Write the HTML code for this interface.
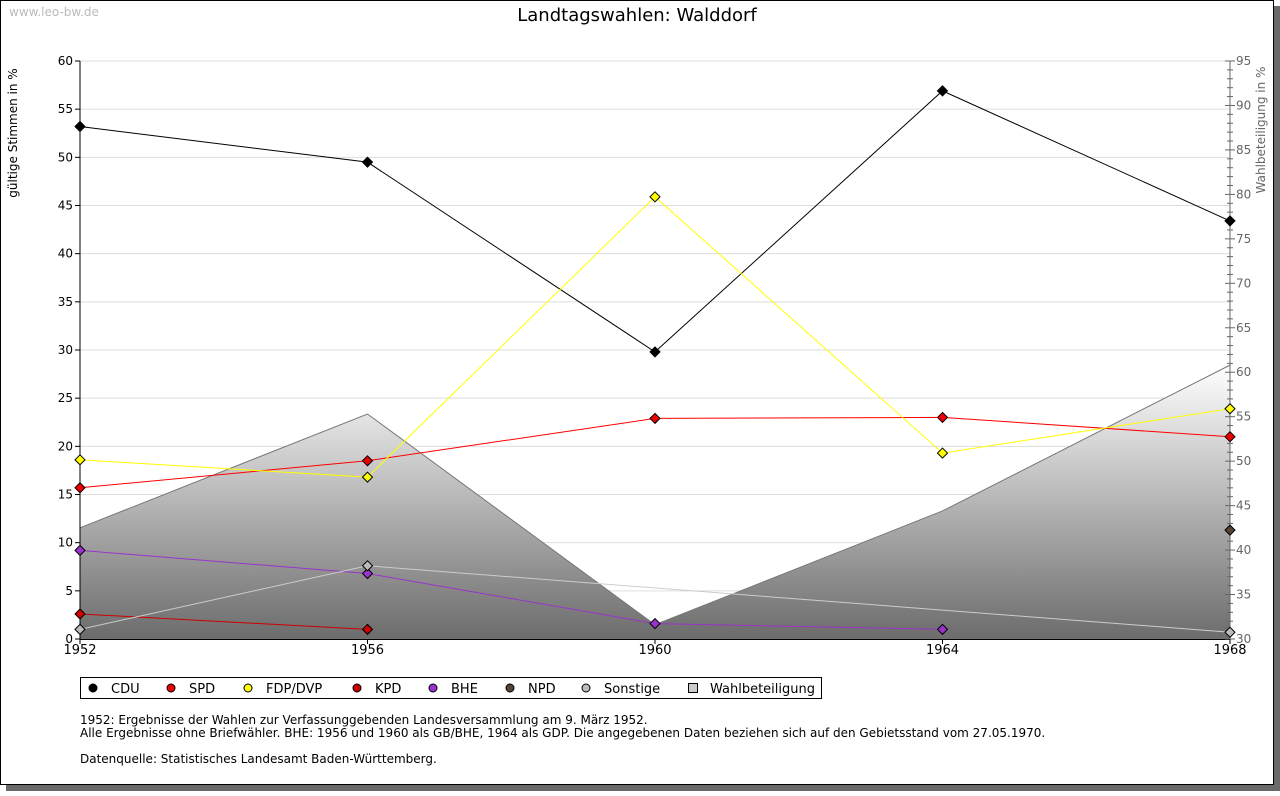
<!DOCTYPE html>
<html><head><meta charset="utf-8"><style>
body{margin:0;background:#fff;font-family:"Liberation Sans","DejaVu Sans",sans-serif;}
#wrap{position:relative;width:1280px;height:791px;}
</style></head><body>
<div id="wrap">
<svg id="svg" width="1280" height="791" xmlns="http://www.w3.org/2000/svg" font-family="DejaVu Sans, Liberation Sans, sans-serif">
<defs><linearGradient id="g" x1="0" y1="0" x2="0" y2="1"><stop offset="0" stop-color="#ffffff"/><stop offset="1" stop-color="#6c6c6c"/></linearGradient></defs>
<rect x="6" y="6" width="1274" height="785" fill="#6a6a6a"/>
<rect x="0.5" y="0.5" width="1273" height="784" fill="#fff" stroke="#000"/>
<text x="9" y="16" font-size="12" fill="#bbb">www.leo-bw.de</text>
<text x="637" y="21" font-size="18" text-anchor="middle">Landtagswahlen: Walddorf</text>
<text transform="translate(17,133) rotate(-90)" font-size="12" text-anchor="middle">gültige Stimmen in %</text>
<text transform="translate(1265,130) rotate(-90)" font-size="12" fill="#666" text-anchor="middle">Wahlbeteiligung in %</text>
<g id="plot"></g>
<g>
<rect x="80.5" y="677.5" width="741" height="21" fill="#fff" stroke="#000"/>
<g id="leg"></g></g>
<g font-size="12">
<text x="80" y="724">1952: Ergebnisse der Wahlen zur Verfassunggebenden Landesversammlung am 9. März 1952.</text>
<text x="80" y="737">Alle Ergebnisse ohne Briefwähler. BHE: 1956 und 1960 als GB/BHE, 1964 als GDP. Die angegebenen Daten beziehen sich auf den Gebietsstand vom 27.05.1970.</text>
<text x="80" y="763">Datenquelle: Statistisches Landesamt Baden-Württemberg.</text>
</g>
</svg></div>
<script>
const years=[1952,1956,1960,1964,1968];
const cdu=[53.2,49.5,29.8,56.9,43.4];
const spd=[15.7,18.5,22.9,23.0,21.0];
const fdp=[18.6,16.8,45.9,19.3,23.9];
const kpd=[2.6,1.0,null,null,null];
const bhe=[9.2,6.8,1.6,1.0,null];
const npd=[null,null,null,null,11.3];
const sonst=[1.0,7.6,null,null,0.7];
const turnout=[42.5,55.3,31.6,44.4,60.8];
const leftTicks=[0,5,10,15,20,25,30,35,40,45,50,55,60];
const rightTicks=[30,35,40,45,50,55,60,65,70,75,80,85,90,95];
const NS='http://www.w3.org/2000/svg';
const X0=80,X1=1230,Y0=639,Y1=61;
const xs=y=>X0+(y-years[0])/(years[years.length-1]-years[0])*(X1-X0);
const yl=v=>Y0-v/60*(Y0-Y1);
const yr=v=>Y0-(v-30)/65*(Y0-Y1);
const plot=document.getElementById('plot');
function mk(t,a,p){const e=document.createElementNS(NS,t);for(const k in a)e.setAttribute(k,a[k]);(p||plot).appendChild(e);return e;}
leftTicks.forEach(v=>{
 const l=mk('line',{x1:X0,x2:X1,y1:yl(v),y2:yl(v),stroke:'#ddd'});
 
 
 mk('line',{x1:X0-5,x2:X0,y1:yl(v),y2:yl(v),stroke:'#000'});
 const t=mk('text',{x:X0-7,y:yl(v)+4,'font-size':12,'text-anchor':'end'});t.textContent=v;
 
 
});
let d='M'+xs(years[0])+','+Y0;
years.forEach((y,i)=>d+=' L'+xs(y)+','+yr(turnout[i]));
d+=' L'+xs(years[years.length-1])+','+Y0+' Z';
const ar=mk('path',{d:d,fill:'url(#g)',stroke:'#777'});


mk('line',{x1:X0,x2:X0,y1:Y1,y2:Y0,stroke:'#000'});
mk('line',{x1:X0,x2:X1,y1:Y0+.5,y2:Y0+.5,stroke:'#000'});
mk('line',{x1:X1,x2:X1,y1:Y1,y2:Y0,stroke:'#666'});
for(let v=30;v<=95;v++){mk('line',{x1:X1-(v%5?3:5),x2:X1+(v%5?3:5),y1:yr(v),y2:yr(v),stroke:'#666'});}
rightTicks.forEach(v=>{const t=mk('text',{x:X1+6,y:yr(v)+4,'font-size':12,fill:'#666'});t.textContent=v;
 
 });
years.forEach(y=>{mk('line',{x1:xs(y),x2:xs(y),y1:Y0,y2:Y0+5,stroke:'#000'});
 const t=mk('text',{x:xs(y),y:654,'font-size':13,'text-anchor':'middle'});t.textContent=y;
 
 });
const series=[['cdu',cdu,'#000','#000'],['spd',spd,'#f00','#e00'],['fdp',fdp,'#ff0','#ff0'],['kpd',kpd,'#c00','#c00'],['bhe',bhe,'#93c','#93c'],['npd',npd,'#553','#543'],['sonstige',sonst,'#ccc','#bbb']];
series.forEach(([n,vals,lc,fc])=>{
 const pts=[];vals.forEach((v,i)=>{if(v!=null)pts.push([xs(years[i]),yl(v)]);});
 if(pts.length>1){const p=mk('polyline',{points:pts.map(q=>q.join(',')).join(' '),fill:'none',stroke:lc,'stroke-width':1});
 
 }
 pts.forEach(([x,y])=>{const m=mk('path',{d:`M${x-5},${y} L${x},${y-5} L${x+5},${y} L${x},${y+5} Z`,fill:fc,stroke:'#000','stroke-width':1});
 
 });
});
const leg=document.getElementById('leg');
const L=[['CDU','#000',93],['SPD','#e00',171],['FDP/DVP','#ff0',248],['KPD','#c00',357],['BHE','#93c',433],['NPD','#543',510],['Sonstige','#bbb',586]];
L.forEach(([t,c,x])=>{mk('circle',{cx:x,cy:688,r:4,fill:c,stroke:'#000'},leg);
 const tx=mk('text',{x:x+18,y:693,'font-size':13},leg);tx.textContent=t;
 
 });
mk('rect',{x:688.5,y:683.5,width:9,height:9,fill:'#ccc',stroke:'#000'},leg);
const wt=mk('text',{x:710,y:693,'font-size':13},leg);wt.textContent='Wahlbeteiligung';


</script>
</body></html>
